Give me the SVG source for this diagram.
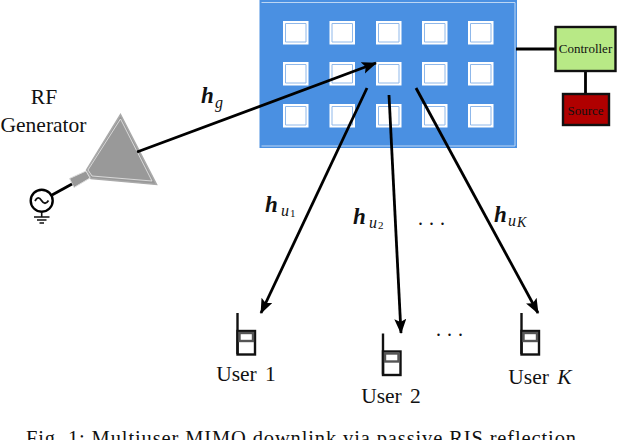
<svg xmlns="http://www.w3.org/2000/svg" width="618" height="440" viewBox="0 0 618 440">
<style>
text{font-family:"Liberation Serif","Times New Roman",serif;fill:#111}
.l{font-size:21.500px}
.h{font-size:23px;font-weight:bold;font-style:italic}
.s{font-size:16px;font-style:italic}
.n{font-size:11px}
.t{font-size:13px}
.e{fill:#fff;stroke:#fff;stroke-width:2}
.i{fill:none;stroke:#8fb8ea;stroke-width:1}
.c{fill:none;stroke:#000;stroke-width:2.800}
.b{fill:none;stroke:#111;stroke-width:2.400}
.d{font-size:20px;letter-spacing:6px}
</style>
<defs>
<marker id="a" markerUnits="userSpaceOnUse" markerWidth="15" markerHeight="13" refX="14" refY="6" orient="auto"><path d="M0 0L15 6L0 12L3 6Z" fill="#000"/></marker>
<g id="cell"><rect class="e" x="1" y="1" width="23.500" height="21.500"/><path class="i" d="M2.500 21V2.500H23M2.500 21H23V2.500"/></g>
<g id="phone"><path class="b" d="M1 0V41"/><rect class="b" x="1" y="18" width="17.500" height="23.500" fill="#fff"/><rect x="3" y="20" width="13.500" height="8" fill="#fff" stroke="#555" stroke-width="2.400"/></g>
</defs>
<g id="ris">
<rect x="259.500" y="0" width="257.500" height="148" fill="#4a90e2"/>
<path d="M261.500 2.500H515V146H261.500" fill="none" stroke="#bcd6f4" stroke-width="1"/>
<use href="#cell" x="283" y="21"/><use href="#cell" x="329.500" y="21"/><use href="#cell" x="376" y="21"/><use href="#cell" x="422" y="21"/><use href="#cell" x="468" y="21"/>
<use href="#cell" x="283" y="62"/><use href="#cell" x="329.500" y="62"/><use href="#cell" x="376" y="62"/><use href="#cell" x="422" y="62"/><use href="#cell" x="468" y="62"/>
<use href="#cell" x="283" y="104"/><use href="#cell" x="329.500" y="104"/><use href="#cell" x="376" y="104"/><use href="#cell" x="422" y="104"/><use href="#cell" x="468" y="104"/>
</g>
<g id="generator">
<text class="l" x="44" y="104" text-anchor="middle">RF</text>
<text class="l" x="43.500" y="132" text-anchor="middle">Generator</text>
<path d="M120.500 114.500L156.500 184.500L91 178.500L86.500 170Z" fill="#999" stroke="#aaa" stroke-width="1.500"/>
<path d="M120.500 119L152 181L92 176L88 170Z" fill="none" stroke="#e8e8e8" stroke-width="0.800"/>
<path d="M69.500 178.500L86 171L90 178L74 187.500Z" fill="#999" stroke="#ddd" stroke-width="1"/>
<circle cx="41.700" cy="200.700" r="11" fill="#fff" stroke="#000" stroke-width="2.400"/>
<path d="M35 201Q38 195 41.500 200.500T48.500 200.500" fill="none" stroke="#111" stroke-width="1.800"/>
<path d="M41.700 212V217M34 217H49.500M37 220H46.500M39.500 223H44" fill="none" stroke="#111" stroke-width="1.600"/>
</g>
<g id="connectors">
<path class="c" d="M516 49H555M585.500 71V93"/>
<path class="c" d="M137 152L376 63" marker-end="url(#a)"/>
<path class="c" d="M367 88L261 313" marker-end="url(#a)"/>
<path class="c" d="M389 95L401 333" marker-end="url(#a)"/>
<path class="c" d="M416 88L538 313" marker-end="url(#a)"/>
<path class="c" d="M72 184L52 195"/>
</g>
<g id="controller"><rect x="555.500" y="27" width="60" height="44" fill="#b8e986" stroke="#111" stroke-width="2.400"/><text class="t" x="585.500" y="53" text-anchor="middle">Controller</text></g>
<g id="source"><rect x="563" y="94" width="46" height="31" fill="#b00000" stroke="#111" stroke-width="2.400"/><text class="t" x="585.500" y="115" text-anchor="middle">Source</text></g>
<g id="labels">
<text class="h" x="201" y="103">h</text><text class="s" x="215" y="108">g</text>
<text class="h" x="265" y="212">h</text><text class="s" x="281" y="216">u</text><text class="n" x="290" y="217">1</text>
<text class="h" x="353" y="224">h</text><text class="s" x="369" y="228">u</text><text class="n" x="378" y="229">2</text>
<text class="h" x="494" y="222">h</text><text class="s" x="508" y="226">u</text><text class="n" x="517" y="227" font-style="italic" style="font-size:14px">K</text>
<text class="d" x="418" y="225">...</text>
<text class="d" x="436" y="336">...</text>
</g>
<g id="user1"><use href="#phone" x="236.500" y="313"/><text class="l" x="246" y="381" text-anchor="middle" word-spacing="3">User 1</text></g>
<g id="user2"><use href="#phone" x="382" y="333.500"/><text class="l" x="391" y="403" text-anchor="middle" word-spacing="3">User 2</text></g>
<g id="userK"><use href="#phone" x="520.500" y="313"/><text class="l" x="540" y="384" text-anchor="middle" word-spacing="3">User <tspan font-style="italic">K</tspan></text></g>
<text x="26" y="445" style="font-size:20.500px" textLength="556">Fig. 1: Multiuser MIMO downlink via passive RIS reflection.</text>
</svg>
